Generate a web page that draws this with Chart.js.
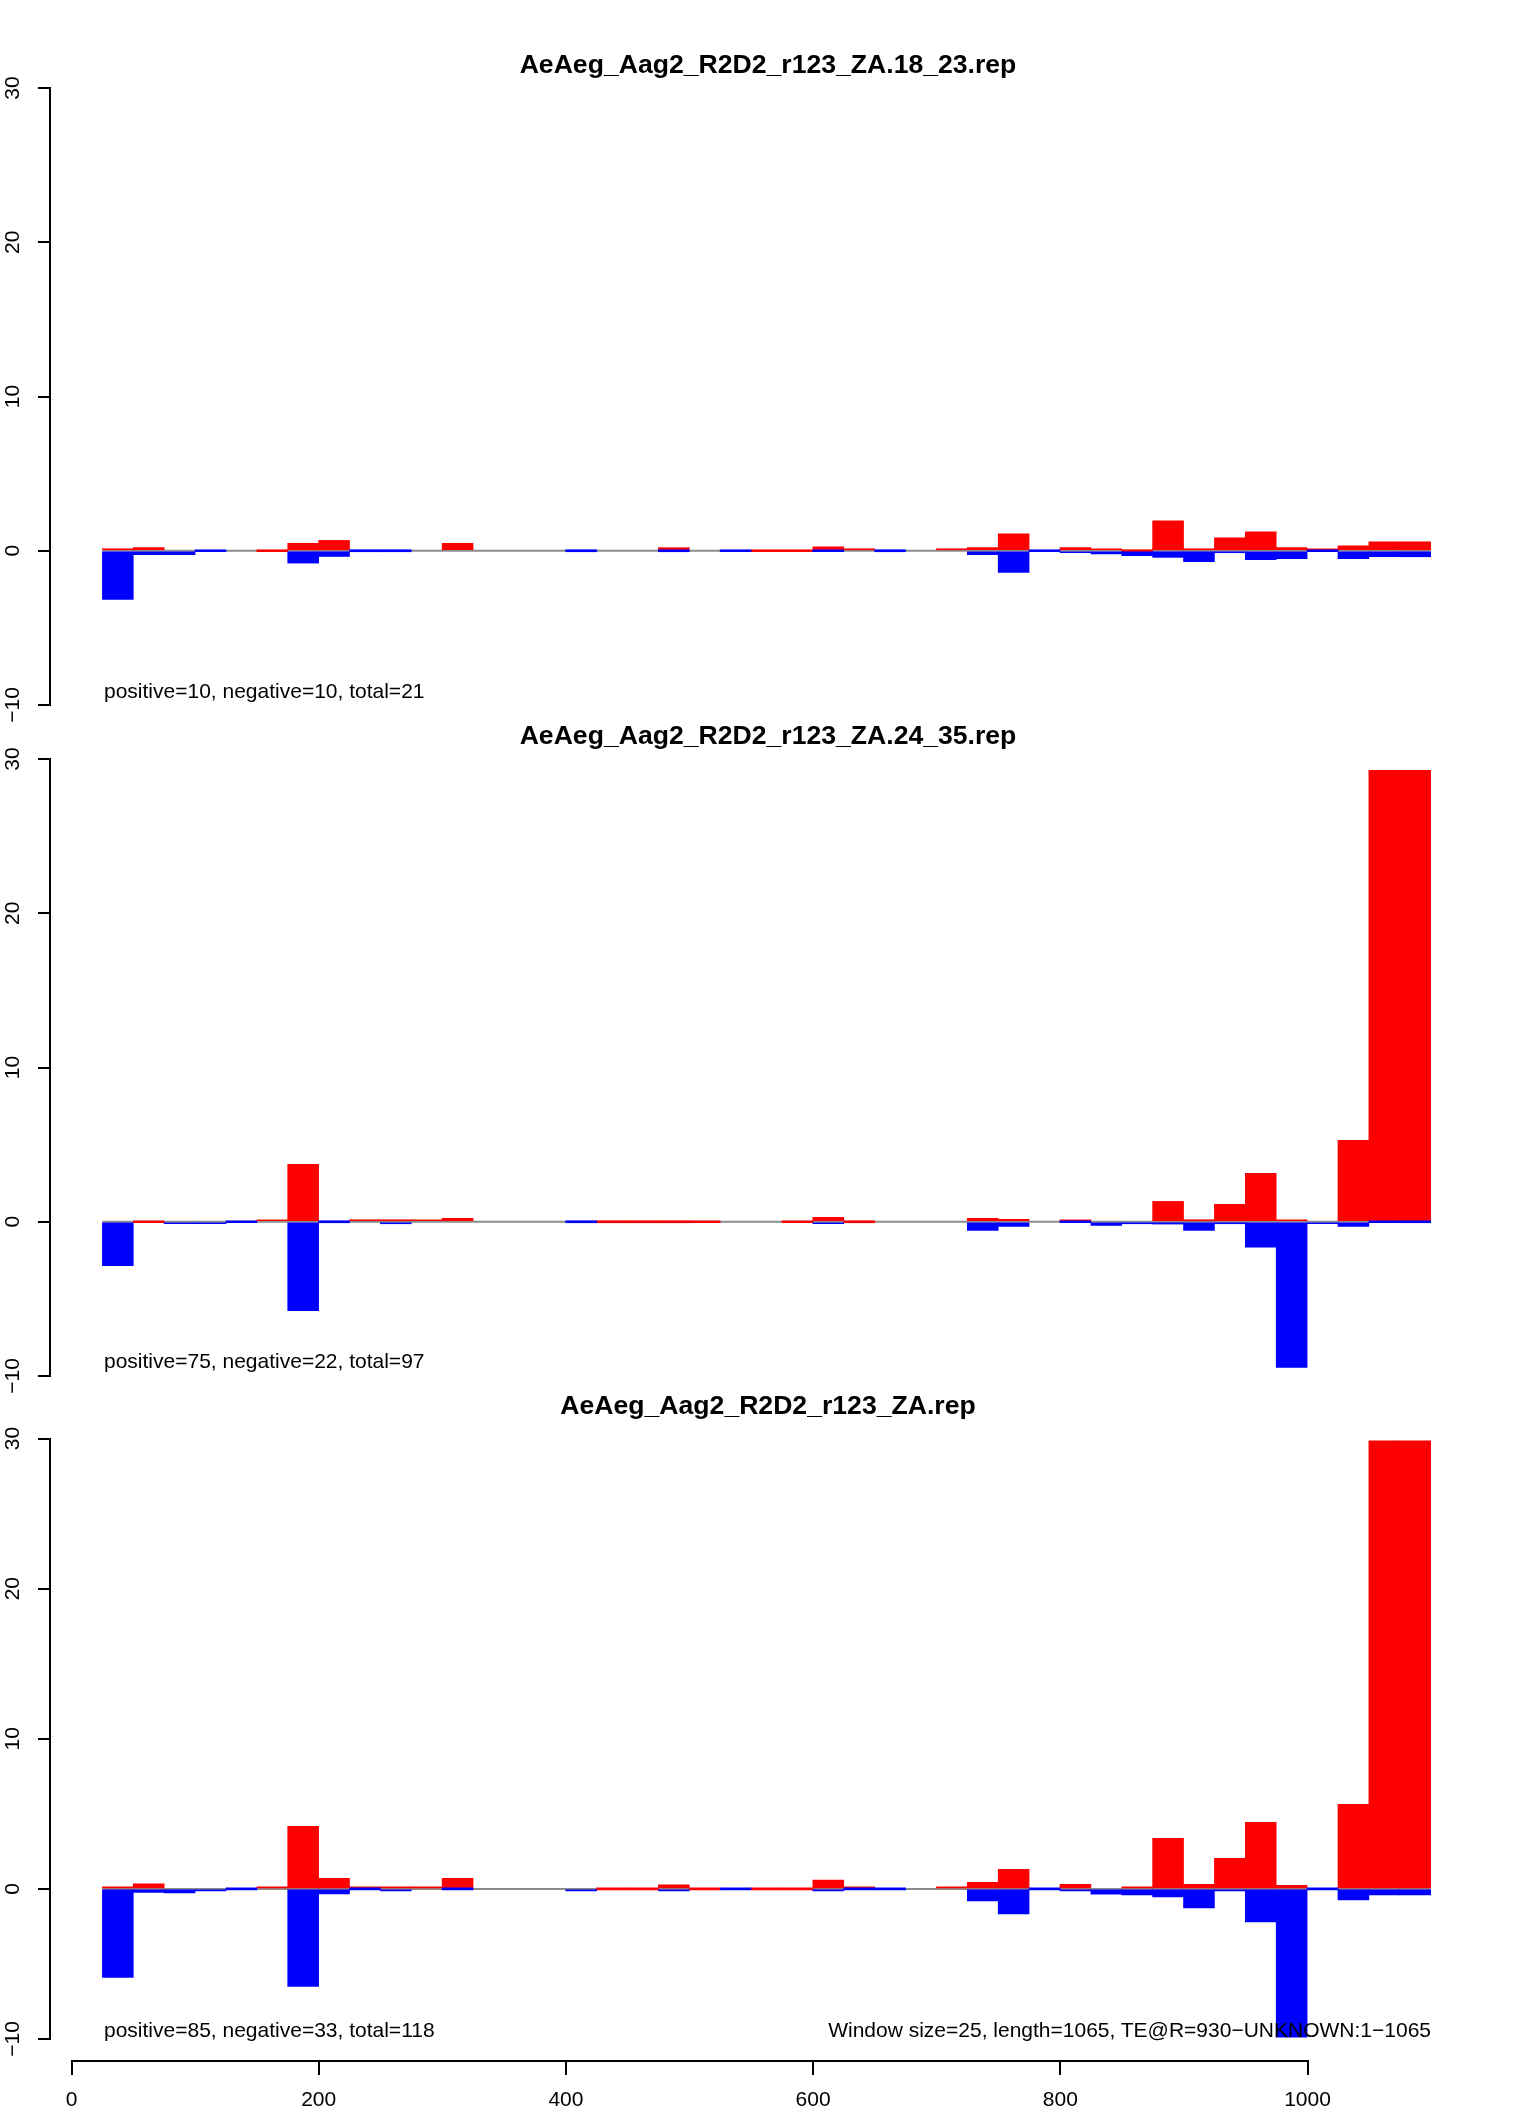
<!DOCTYPE html>
<html>
<head>
<meta charset="utf-8">
<title>AeAeg_Aag2_R2D2_r123_ZA</title>
<script src="https://cdn.jsdelivr.net/npm/chart.js@4.4.1/dist/chart.umd.min.js"></script>
<style>
  body { margin: 0; background: #fff; }
  #page { position: relative; width: 1536px; height: 2112px; background: #fff; font-family: "Liberation Sans", Arial, sans-serif; }
  canvas { position: absolute; left: 0; }
  .note { position: absolute; font-size: 21px; line-height: 21px; color: #000; white-space: nowrap; }
</style>
</head>
<body>
<div id="page">
  <canvas id="p1" width="1536" height="685" style="top:40px"></canvas>
  <canvas id="p2" width="1536" height="685" style="top:711px"></canvas>
  <canvas id="p3" width="1536" height="678" style="top:1381px"></canvas>
  <canvas id="xaxis" width="1536" height="72" style="top:2040px"></canvas>
  <div class="note" id="n1" style="left:104px; top:680px"></div>
  <div class="note" id="n2" style="left:104px; top:1350px"></div>
  <div class="note" id="n3" style="left:104px; top:2019px"></div>
  <div class="note" id="n4" style="right:105px; top:2019px"></div>
</div>
<script>
// window centres (window size 25)
var binCenters = [37.5, 62.5, 87.5, 112.5, 137.5, 162.5, 187.5, 212.5, 237.5, 262.5,
  287.5, 312.5, 337.5, 362.5, 387.5, 412.5, 437.5, 462.5, 487.5, 512.5,
  537.5, 562.5, 587.5, 612.5, 637.5, 662.5, 687.5, 712.5, 737.5, 762.5,
  787.5, 812.5, 837.5, 862.5, 887.5, 912.5, 937.5, 962.5, 987.5, 1012.5,
  1037.5, 1062.5, 1087.5];
var zeroLineFrom = 25;
var zeroLineTo = 1100;

var yTicks = [-10, 0, 10, 20, 30];
var xTicks = [0, 200, 400, 600, 800, 1000];

var titles = ['AeAeg_Aag2_R2D2_r123_ZA.18_23.rep', 'AeAeg_Aag2_R2D2_r123_ZA.24_35.rep', 'AeAeg_Aag2_R2D2_r123_ZA.rep'];
var notes = ['positive=10, negative=10, total=21', 'positive=75, negative=22, total=97', 'positive=85, negative=33, total=118'];
var footNote = 'Window size=25, length=1065, TE@R=930\u2212UNKNOWN:1\u22121065';

// 18_23
var red18_23 = [0.1, 0.2, null, null, null, 0, 0.48, 0.67, null, null,
  null, 0.48, null, null, null, null, null, null, 0.2, null,
  null, 0, 0, 0.26, 0.07, null, null, 0.07, 0.2, 1.1,
  null, 0.2, 0.07, 0, 1.94, 0.13, 0.84, 1.23, 0.2, 0.07,
  0.32, 0.58, 0.58];
var blue18_23 = [-3.15, -0.26, -0.26, 0, null, null, -0.8, -0.37, 0, 0,
  null, null, null, null, null, 0, null, null, 0, null,
  0, null, null, 0, null, 0, null, null, -0.26, -1.4,
  0, -0.13, -0.2, -0.32, -0.43, -0.71, -0.1, -0.58, -0.52, 0,
  -0.52, -0.39, -0.39];

// 24_35
var red24_35 = [null, 0, null, null, null, 0.09, 3.72, null, 0.09, 0.04,
  0.09, 0.22, null, null, null, null, 0, 0, 0, 0,
  null, null, 0, 0.28, 0, null, null, null, 0.22, 0.15,
  null, 0.09, null, null, 1.32, 0.09, 1.13, 3.14, 0.09, null,
  5.28, 29.27, 29.27];
var blue24_35 = [-2.84, null, -0.1, -0.1, 0, null, -5.76, 0, null, -0.09,
  null, null, null, null, null, 0, null, null, null, null,
  null, null, null, -0.1, null, null, null, null, -0.56, -0.3,
  null, 0, -0.24, -0.1, -0.15, -0.56, -0.1, -1.65, -9.44, -0.1,
  -0.3, 0, 0];

// all reads
var redZA = [0.04, 0.33, null, null, null, 0.11, 4.17, 0.71, 0.11, 0.04,
  0.11, 0.71, null, null, null, null, 0, 0, 0.27, 0,
  null, 0, 0, 0.58, 0.11, null, null, 0.11, 0.44, 1.31,
  null, 0.31, null, 0.04, 3.37, 0.31, 2.04, 4.43, 0.24, null,
  5.63, 29.85, 29.85];
var blueZA = [-5.9, -0.24, -0.27, -0.13, 0, null, -6.5, -0.33, 0, -0.13,
  null, 0, null, null, null, -0.07, null, null, -0.07, null,
  0, null, null, -0.07, 0, 0, null, null, -0.8, -1.66,
  0, -0.07, -0.35, -0.4, -0.53, -1.26, -0.13, -2.2, -9.87, 0,
  -0.73, -0.4, -0.4];

var FONT = 'Liberation Sans, Arial, sans-serif';

function toPoints(values) {
  return binCenters.map(function (x, i) { return { x: x, y: values[i] }; });
}

function minusLabel(v) {
  return v < 0 ? '\u2212' + Math.abs(v) : String(v);
}

function makePanel(id, title, red, blue, titlePadBottom) {
  return new Chart(document.getElementById(id), {
    type: 'bar',
    data: {
      datasets: [
        { label: 'negative', data: toPoints(blue), backgroundColor: '#0000ff' },
        { label: 'positive', data: toPoints(red), backgroundColor: '#ff0000' },
        {
          type: 'line', label: 'zero',
          data: [{ x: zeroLineFrom, y: 0 }, { x: zeroLineTo, y: 0 }],
          borderColor: '#8c8c8c', borderWidth: 2, pointRadius: 0
        }
      ]
    },
    options: {
      responsive: false,
      animation: false,
      devicePixelRatio: 1,
      layout: { padding: { left: 0, right: 50, top: 0, bottom: 20 } },
      datasets: {
        bar: { grouped: false, barPercentage: 1, categoryPercentage: 1, minBarLength: 2, borderWidth: 0 }
      },
      scales: {
        x: { type: 'linear', display: false, offset: false, min: -17.4, max: 1144.8 },
        y: {
          min: -10, max: 30,
          afterBuildTicks: function (s) { s.ticks = yTicks.map(function (v) { return { value: v }; }); },
          afterFit: function (s) { s.width = 50; },
          ticks: {
            font: { family: FONT, size: 21 }, color: '#000',
            minRotation: 90, maxRotation: 90, crossAlign: 'center', padding: 7,
            callback: minusLabel
          },
          grid: { drawOnChartArea: false, drawTicks: true, tickLength: 12, tickColor: '#000', lineWidth: 2 },
          border: { display: true, color: '#000', width: 2 }
        }
      },
      plugins: {
        legend: { display: false },
        tooltip: { enabled: false },
        title: {
          display: true, text: title, fullSize: false, color: '#000',
          font: { family: FONT, size: 26.6, weight: 'bold', lineHeight: 1.2 },
          padding: { top: 9.5, bottom: titlePadBottom }
        }
      }
    }
  });
}

makePanel('p1', titles[0], red18_23, blue18_23, 6.6);
makePanel('p2', titles[1], red24_35, blue24_35, 6.6);
makePanel('p3', titles[2], redZA, blueZA, 16.1);

// bottom axis, drawn only from 0 to 1000 like the original
new Chart(document.getElementById('xaxis'), {
  type: 'line',
  data: { datasets: [{ data: [] }] },
  options: {
    responsive: false,
    animation: false,
    devicePixelRatio: 1,
    layout: { padding: { left: 71.5, right: 228.5, top: 0, bottom: 0 } },
    scales: {
      x: {
        type: 'linear', min: 0, max: 1000, offset: false,
        afterBuildTicks: function (s) { s.ticks = xTicks.map(function (v) { return { value: v }; }); },
        afterFit: function (s) { s.height = 51; },
        ticks: { font: { family: FONT, size: 21 }, color: '#000', padding: 13, maxRotation: 0, callback: function (v) { return String(v); } },
        grid: { drawOnChartArea: false, drawTicks: true, tickLength: 14, tickColor: '#000', lineWidth: 2 },
        border: { display: true, color: '#000', width: 2 }
      },
      y: { display: false }
    },
    plugins: { legend: { display: false }, tooltip: { enabled: false } }
  }
});

document.getElementById('n1').textContent = notes[0];
document.getElementById('n2').textContent = notes[1];
document.getElementById('n3').textContent = notes[2];
document.getElementById('n4').textContent = footNote;
</script>
</body>
</html>
